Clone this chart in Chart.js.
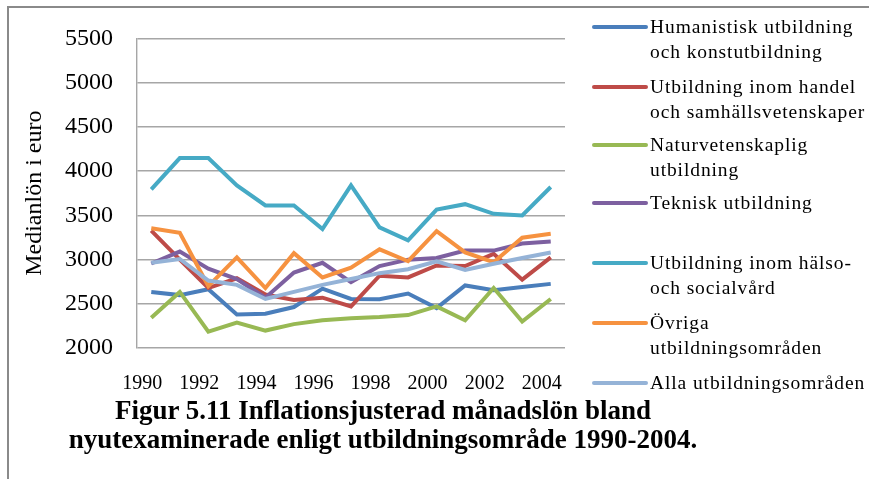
<!DOCTYPE html>
<html>
<head>
<meta charset="utf-8">
<script src="https://cdn.jsdelivr.net/npm/chart.js@4/dist/chart.umd.min.js"></script>
<style>
  html, body { margin: 0; padding: 0; background: #fff; }
  #wrap { position: relative; width: 869px; height: 479px; overflow: hidden; background: #fff; }
  #frame { position: absolute; left: 7px; top: 6px; width: 870px; height: 480px; border-top: 2px solid #8a8a8a; border-left: 2px solid #8a8a8a; }
  canvas { position: absolute; left: 0; top: 0; }
  .leg { position: absolute; left: 592px; font-family: "Liberation Serif", "Times New Roman", serif; font-size: 19.5px; letter-spacing: 0.9px; line-height: 25px; color: #000; }
  .leg .sw { position: absolute; left: 0; width: 56px; height: 4px; border-radius: 2px; top: 11px; }
  .leg .tx { position: absolute; left: 58px; white-space: nowrap; }
  #title { position: absolute; left: 30px; width: 706px; top: 396px; text-align: center; font-family: "Liberation Serif", "Times New Roman", serif; font-weight: bold; font-size: 27px; line-height: 29px; color: #000; white-space: nowrap; }
</style>
</head>
<body>
<div id="wrap">
  <div id="frame"></div>
  <canvas id="c" width="869" height="479"></canvas>
  <div id="legend"></div>
  <div id="title">Figur 5.11 Inflationsjusterad månadslön bland<br>nyutexaminerade enligt utbildningsområde 1990-2004.</div>
</div>
<script>
const years = ["1990","1991","1992","1993","1994","1995","1996","1997","1998","1999","2000","2001","2002","2003","2004"];
const humanistisk = [2634, 2598, 2664, 2379, 2387, 2463, 2671, 2554, 2551, 2616, 2452, 2707, 2653, 2689, 2725];
const handel      = [3327, 2999, 2678, 2788, 2605, 2543, 2569, 2470, 2817, 2798, 2933, 2926, 3065, 2773, 3025];
const natur       = [2343, 2634, 2186, 2288, 2197, 2270, 2314, 2336, 2350, 2372, 2470, 2314, 2678, 2299, 2554];
const teknisk     = [2955, 3090, 2897, 2780, 2569, 2853, 2963, 2744, 2926, 2999, 3017, 3101, 3101, 3181, 3203];
const halso       = [3794, 4147, 4147, 3838, 3611, 3611, 3345, 3838, 3364, 3218, 3564, 3626, 3517, 3499, 3820];
const ovriga      = [3353, 3302, 2700, 3025, 2678, 3072, 2798, 2908, 3116, 2981, 3320, 3080, 2970, 3247, 3291];
const alla        = [2963, 3006, 2762, 2714, 2554, 2634, 2714, 2780, 2846, 2890, 2981, 2882, 2952, 3017, 3080];
const seriesNames = [
  ["Humanistisk utbildning", "och konstutbildning"],
  ["Utbildning inom handel", "och samhällsvetenskaper"],
  ["Naturvetenskaplig", "utbildning"],
  ["Teknisk utbildning"],
  ["Utbildning inom hälso-", "och socialvård"],
  ["Övriga", "utbildningsområden"],
  ["Alla utbildningsområden"]
];
const seriesValues = [humanistisk, handel, natur, teknisk, halso, ovriga, alla];
const colors = ["#4A7EBB", "#BE4B48", "#98B954", "#7D60A0", "#46AAC5", "#F69240", "#95B3D7"];
const legendTops = [14, 74, 132, 190, 250, 310, 370];
const yTitle = "Medianlön i euro";

const datasets = seriesValues.map((vals, i) => ({
  label: seriesNames[i].join(" "),
  data: vals,
  borderColor: colors[i],
  backgroundColor: colors[i],
  borderWidth: 4,
  pointRadius: 0,
  tension: 0,
  fill: false,
  order: 6 - i
}));

const serif = "'Liberation Serif', 'Times New Roman', serif";

new Chart(document.getElementById("c"), {
  type: "line",
  data: { labels: years, datasets },
  options: {
    responsive: false,
    animation: false,
    devicePixelRatio: 1,
    layout: { padding: { left: 20, top: 28, right: 304, bottom: 0 } },
    plugins: { legend: { display: false }, tooltip: { enabled: false }, title: { display: false } },
    scales: {
      x: {
        offset: true,
        grid: { display: false, drawTicks: false },
        border: { display: false },
        ticks: {
          autoSkip: false,
          maxRotation: 0,
          padding: 24,
          labelOffset: -9,
          color: "#000",
          font: { family: serif, size: 20 },
          callback: (v, i) => (i % 2 === 0 ? years[i] : "")
        },
        afterFit: (s) => { s.height = 131; }
      },
      y: {
        min: 2000,
        max: 5500,
        ticks: { stepSize: 500, padding: 24, color: "#000", font: { family: serif, size: 24 }, callback: (v) => String(v) },
        grid: { color: "#a6a6a6", lineWidth: 1.4, drawTicks: false },
        border: { display: true, color: "#a6a6a6", width: 1.4 },
        title: { display: true, text: yTitle, color: "#000", font: { family: serif, size: 24 }, padding: 0 },
        afterFit: (s) => { s.width = 117; }
      }
    }
  }
});

const leg = document.getElementById("legend");
seriesNames.forEach((lines, i) => {
  const d = document.createElement("div");
  d.className = "leg";
  d.style.top = legendTops[i] + "px";
  d.innerHTML = '<div class="sw" style="background:' + colors[i] + '"></div><div class="tx">' + lines.join("<br>") + "</div>";
  leg.appendChild(d);
});
</script>
</body>
</html>
